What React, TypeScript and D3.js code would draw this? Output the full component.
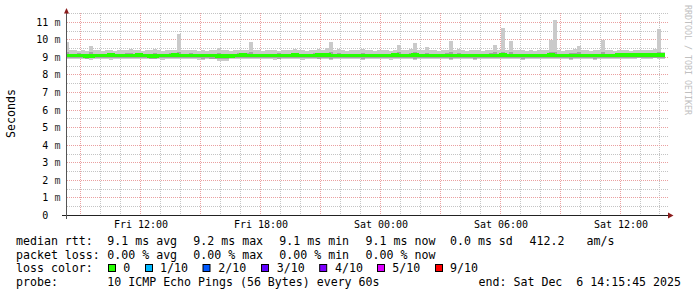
import React from "react";
import * as d3 from "d3";

const W = 697;
const H = 297;

// ---- data (one value per 12-minute column) ----
const pingMax = [
  9.87, 9.42, 9.40, 9.38, 9.40, 9.36, 9.63, 9.42, 9.40, 9.36,
  9.40, 9.42, 9.38, 9.40, 9.44, 9.42, 9.50, 9.42, 9.40, 9.38,
  9.40, 9.42, 9.46, 9.40, 9.38, 9.40, 9.42, 9.40, 10.33, 9.40,
  9.42, 9.44, 9.40, 9.38, 9.40, 9.36, 9.40, 9.42, 9.55, 9.42,
  9.40, 9.38, 9.40, 9.42, 9.40, 9.44, 9.86, 9.42, 9.40, 9.38,
  9.40, 9.42, 9.40, 9.38, 9.44, 9.40, 9.42, 9.46, 9.42, 9.40,
  9.38, 9.40, 9.42, 9.48, 9.40, 9.53, 9.87, 9.42, 9.48, 9.40,
  9.38, 9.40, 9.42, 9.40, 9.50, 9.42, 9.40, 9.38, 9.40, 9.42,
  9.40, 9.38, 9.42, 9.69, 9.42, 9.40, 9.48, 9.80, 9.42, 9.40,
  9.57, 9.42, 9.40, 9.38, 9.40, 9.44, 9.91, 9.42, 9.47, 9.40,
  9.38, 9.40, 9.42, 9.40, 9.38, 9.40, 9.44, 9.69, 9.42, 10.66,
  9.42, 9.91, 9.40, 9.40, 9.40, 9.38, 9.40, 9.35, 9.40, 9.42,
  9.40, 9.98, 11.10, 9.40, 9.38, 9.42, 9.44, 9.46, 9.63, 9.42,
  9.40, 9.38, 9.40, 9.42, 9.98, 9.42, 9.40, 9.38, 9.40, 9.42,
  9.40, 9.38, 9.40, 9.42, 9.44, 9.42, 9.44, 9.46, 10.60, 9.30,
];
const pingP9 = [
  9.30, 9.22, 9.20, 9.24, 9.21, 9.20, 9.28, 9.22, 9.20, 9.21,
  9.22, 9.25, 9.20, 9.21, 9.22, 9.24, 9.26, 9.21, 9.20, 9.22,
  9.20, 9.21, 9.24, 9.20, 9.22, 9.21, 9.23, 9.20, 9.30, 9.22,
  9.21, 9.24, 9.20, 9.22, 9.21, 9.20, 9.22, 9.21, 9.26, 9.22,
  9.20, 9.21, 9.22, 9.24, 9.21, 9.23, 9.30, 9.22, 9.20, 9.21,
  9.22, 9.20, 9.21, 9.24, 9.22, 9.20, 9.21, 9.25, 9.22, 9.20,
  9.21, 9.22, 9.24, 9.26, 9.21, 9.27, 9.30, 9.22, 9.25, 9.20,
  9.21, 9.22, 9.20, 9.21, 9.26, 9.22, 9.20, 9.21, 9.22, 9.20,
  9.21, 9.22, 9.20, 9.28, 9.21, 9.22, 9.25, 9.28, 9.21, 9.20,
  9.26, 9.22, 9.20, 9.21, 9.22, 9.23, 9.30, 9.22, 9.25, 9.21,
  9.20, 9.21, 9.22, 9.20, 9.21, 9.22, 9.23, 9.28, 9.21, 9.30,
  9.22, 9.29, 9.21, 9.20, 9.22, 9.21, 9.20, 9.22, 9.21, 9.20,
  9.22, 9.30, 9.32, 9.21, 9.20, 9.22, 9.23, 9.24, 9.28, 9.21,
  9.20, 9.22, 9.21, 9.20, 9.30, 9.22, 9.21, 9.20, 9.22, 9.21,
  9.20, 9.22, 9.21, 9.22, 9.23, 9.21, 9.23, 9.24, 9.30, 9.22,
];
const pingMedian = [
  9.11, 9.11, 9.11, 9.10, 9.10, 9.09, 9.09, 9.11, 9.11, 9.11,
  9.11, 9.12, 9.11, 9.11, 9.10, 9.11, 9.11, 9.11, 9.12, 9.11,
  9.10, 9.09, 9.09, 9.10, 9.11, 9.11, 9.11, 9.12, 9.11, 9.11,
  9.11, 9.11, 9.11, 9.10, 9.11, 9.11, 9.10, 9.10, 9.08, 9.08,
  9.09, 9.09, 9.11, 9.11, 9.12, 9.11, 9.11, 9.11, 9.10, 9.11,
  9.11, 9.11, 9.10, 9.10, 9.11, 9.11, 9.11, 9.12, 9.11, 9.11,
  9.11, 9.11, 9.11, 9.12, 9.11, 9.12, 9.11, 9.11, 9.11, 9.11,
  9.11, 9.11, 9.10, 9.10, 9.11, 9.11, 9.11, 9.11, 9.11, 9.11,
  9.11, 9.11, 9.12, 9.11, 9.11, 9.11, 9.11, 9.12, 9.11, 9.11,
  9.11, 9.11, 9.11, 9.11, 9.10, 9.11, 9.11, 9.11, 9.11, 9.11,
  9.11, 9.11, 9.10, 9.10, 9.11, 9.11, 9.11, 9.11, 9.11, 9.12,
  9.11, 9.11, 9.11, 9.10, 9.10, 9.11, 9.11, 9.11, 9.11, 9.11,
  9.11, 9.12, 9.11, 9.11, 9.11, 9.11, 9.10, 9.10, 9.11, 9.11,
  9.11, 9.11, 9.10, 9.11, 9.11, 9.11, 9.11, 9.11, 9.12, 9.13,
  9.13, 9.13, 9.12, 9.13, 9.13, 9.12, 9.13, 9.13, 9.14, 9.13,
];
const pingP2 = [
  8.95, 8.96, 8.94, 8.96, 8.95, 8.93, 8.94, 8.96, 8.97, 8.95,
  8.94, 8.96, 8.95, 8.97, 8.94, 8.95, 8.96, 8.94, 8.95, 8.96,
  8.94, 8.93, 8.92, 8.95, 8.96, 8.95, 8.94, 8.96, 8.95, 8.97,
  8.95, 8.96, 8.94, 8.95, 8.93, 8.96, 8.92, 8.91, 8.92, 8.90,
  8.92, 8.95, 8.96, 8.94, 8.95, 8.96, 8.95, 8.94, 8.96, 8.95,
  8.96, 8.94, 8.95, 8.93, 8.95, 8.96, 8.95, 8.94, 8.96, 8.95,
  8.94, 8.96, 8.95, 8.93, 8.95, 8.94, 8.93, 8.96, 8.95, 8.94,
  8.95, 8.96, 8.94, 8.95, 8.93, 8.95, 8.96, 8.95, 8.94, 8.96,
  8.95, 8.94, 8.96, 8.95, 8.94, 8.96, 8.95, 8.93, 8.94, 8.96,
  8.95, 8.94, 8.96, 8.95, 8.94, 8.95, 8.93, 8.94, 8.95, 8.96,
  8.95, 8.94, 8.93, 8.95, 8.96, 8.95, 8.94, 8.95, 8.96, 8.95,
  8.94, 8.95, 8.96, 8.95, 8.93, 8.94, 8.95, 8.96, 8.95, 8.94,
  8.95, 8.96, 8.94, 8.95, 8.96, 8.95, 8.93, 8.94, 8.95, 8.96,
  8.95, 8.94, 8.93, 8.95, 8.96, 8.95, 8.94, 8.95, 8.96, 8.97,
  8.97, 8.96, 8.97, 8.98, 8.97, 8.96, 8.97, 8.98, 8.97, 8.96,
];
const pingMin = [
  8.90, 8.92, 8.88, 8.90, 8.92, 8.88, 8.86, 8.90, 8.92, 8.90,
  8.88, 8.86, 8.90, 8.92, 8.90, 8.88, 8.90, 8.92, 8.90, 8.88,
  8.90, 8.92, 8.88, 8.90, 8.86, 8.90, 8.92, 8.90, 8.88, 8.90,
  8.92, 8.90, 8.88, 8.86, 8.84, 8.88, 8.90, 8.92, 8.80, 8.80,
  8.82, 8.88, 8.90, 8.92, 8.90, 8.88, 8.90, 8.92, 8.88, 8.90,
  8.92, 8.90, 8.86, 8.88, 8.90, 8.92, 8.90, 8.88, 8.90, 8.86,
  8.90, 8.92, 8.88, 8.90, 8.92, 8.88, 8.86, 8.90, 8.92, 8.90,
  8.88, 8.90, 8.92, 8.90, 8.86, 8.88, 8.90, 8.92, 8.90, 8.88,
  8.90, 8.86, 8.88, 8.90, 8.92, 8.90, 8.88, 8.86, 8.90, 8.92,
  8.90, 8.88, 8.90, 8.92, 8.88, 8.90, 8.86, 8.88, 8.90, 8.92,
  8.90, 8.88, 8.86, 8.90, 8.92, 8.90, 8.88, 8.90, 8.92, 8.90,
  8.88, 8.90, 8.92, 8.90, 8.86, 8.88, 8.90, 8.92, 8.90, 8.88,
  8.90, 8.92, 8.88, 8.90, 8.92, 8.90, 8.86, 8.88, 8.90, 8.92,
  8.90, 8.88, 8.86, 8.90, 8.92, 8.90, 8.88, 8.90, 8.92, 8.90,
  8.92, 8.90, 8.92, 8.94, 8.92, 8.90, 8.92, 8.94, 8.92, 8.90,
];

const yTickValues = [0, 1, 2, 3, 4, 5, 6, 7, 8, 9, 10, 11];
const yMinorValues = [0.5, 1.5, 2.5, 3.5, 4.5, 5.5, 6.5, 7.5, 8.5, 9.5, 10.5, 11.5];
const yTickLabels = ["0", "1 m", "2 m", "3 m", "4 m", "5 m", "6 m", "7 m", "8 m", "9 m", "10 m", "11 m"];

const startTime = new Date(2025, 11, 5, 8, 21);
const endTime = new Date(2025, 11, 6, 14, 21);
const columnMinutes = 12;

const medianStats = ["9.1 ms avg", "9.2 ms max", "9.1 ms min", "9.1 ms now", "0.0 ms sd", "412.2", "am/s"];
const medianStatX = [107.3, 193.3, 279.3, 365.6, 450, 529.5, 586.5];
const lossStats = ["0.00 % avg", "0.00 % max", "0.00 % min", "0.00 % now"];
const lossStatX = [107.3, 193.3, 279.3, 365.6];
const lossLabels = ["0", "1/10", "2/10", "3/10", "4/10", "5/10", "9/10"];
const lossColors = ["#26ff00", "#00b8ff", "#0059ff", "#5e00ff", "#7e00ff", "#dd00ff", "#ff0000"];
const lossBoxX = [108.5, 145.5, 203, 261.5, 319.7, 377.5, 435.5];
const lossLabelX = [123.3, 160, 218.3, 276.7, 335, 392.3, 450];

const FONT = "'DejaVu Sans Mono', monospace";

export default function App() {
  const X0 = 67;
  const X1 = 667;
  const Y0 = 215.5;
  const YT = 13.45;

  const x = d3.scaleTime().domain([startTime, endTime]).range([X0, X1]);
  const y = d3.scaleLinear().domain([0, 11.5]).range([Y0, YT]);

  const colStart = (i: number) => d3.timeMinute.offset(startTime, columnMinutes * i - columnMinutes / 2);

  const hours = d3.timeHour.range(d3.timeHour.ceil(startTime), endTime);
  const fmt = d3.timeFormat("%a %H:%M");
  const px = (v: number) => Math.floor(v) + 0.5;

  const n = pingMedian.length;
  const medPts: [number, number][] = pingMedian.map((v, i) => [x(colStart(i)), y(v)]);
  medPts.push([x(colStart(n)), y(pingMedian[n - 1])]);
  const medLine = d3.line().curve(d3.curveStepAfter)(medPts) || "";

  const bands = [
    { lo: pingMin, hi: pingMax, color: "#cacaca" },
    { lo: pingP2, hi: pingP9, color: "#a4a4a4" },
  ];

  const legendBase = [245, 258.7, 272.4, 286.1];
  const pre = { whiteSpace: "pre" as const };

  return (
    <svg width={W} height={H} style={{ position: "absolute", left: 0, top: 0, background: "#fff" }}
      fontFamily={FONT}>
      <rect x={0} y={0} width={W} height={H} fill="#ffffff" />
      <defs>
        <clipPath id="plotClip">
          <rect x={X0} y={YT} width={X1 - X0} height={Y0 - YT} />
        </clipPath>
      </defs>

      {/* minor grid */}
      <g stroke="#c4c4c4" strokeWidth={1} strokeDasharray="1 1" shapeRendering="crispEdges">
        {yMinorValues.map((v) => (
          <line key={"hm" + v} x1={X0} x2={669} y1={px(y(v))} y2={px(y(v))} />
        ))}
        {hours.filter((h) => h.getHours() % 3 !== 0).map((h) => (
          <line key={"vm" + h.getTime()} x1={px(x(h))} x2={px(x(h))} y1={YT} y2={Y0} />
        ))}
      </g>
      {/* major grid */}
      <g stroke="#eaa0a0" strokeWidth={1} strokeDasharray="1 1" shapeRendering="crispEdges">
        {yTickValues.filter((v) => v > 0).map((v) => (
          <line key={"hM" + v} x1={X0} x2={669} y1={px(y(v))} y2={px(y(v))} />
        ))}
        {hours.filter((h) => h.getHours() % 3 === 0).map((h) => (
          <line key={"vM" + h.getTime()} x1={px(x(h))} x2={px(x(h))} y1={YT} y2={Y0} />
        ))}
      </g>

      {/* smoke */}
      <g clipPath="url(#plotClip)" shapeRendering="crispEdges">
        {bands.map((b, bi) => (
          <g key={"band" + bi} fill={b.color}>
            {b.hi.map((hv, i) => {
              const xa = x(colStart(i));
              const xb = x(colStart(i + 1));
              const ya = Math.round(y(hv));
              const yb = Math.round(y(b.lo[i]));
              return <rect key={i} x={xa} width={xb - xa} y={ya} height={yb - ya} />;
            })}
          </g>
        ))}
        <path d={medLine} fill="none" stroke="#26ff00" strokeWidth={3.6} />
      </g>

      {/* axes */}
      <line x1={62} x2={668} y1={Y0} y2={Y0} stroke="#222" strokeWidth={1} shapeRendering="crispEdges" />
      <line x1={66.5} x2={66.5} y1={219} y2={13} stroke="#555" strokeWidth={1} shapeRendering="crispEdges" />
      <path d="M64,13.5 L69,13.5 L66.5,8 Z" fill="#8b1c1c" />
      <path d="M668,212.5 L668,218.5 L673.5,215.5 Z" fill="#8b1c1c" />

      {/* y labels */}
      <g fontSize={10} fill="#000">
        {yTickValues.map((v, i) => {
          const label = yTickLabels[i];
          const parts = label.split(" ");
          const yy = px(y(v)) + 3.5;
          return (
            <g key={"yl" + v}>
              <text x={48.4} y={yy} textAnchor="end">{parts[0]}</text>
              {parts[1] ? <text x={54.4} y={yy} fill="#333">{parts[1]}</text> : null}
            </g>
          );
        })}
      </g>

      {/* x labels */}
      <g fontSize={10} fill="#000">
        {hours.filter((h) => h.getHours() % 6 === 0).map((h) => (
          <text key={"xl" + h.getTime()} x={x(h) + 1} y={228} textAnchor="middle">{fmt(h)}</text>
        ))}
      </g>

      {/* y title */}
      <text transform="translate(14.5,113.5) rotate(-90)" textAnchor="middle" fontSize={11.6} fill="#000">Seconds</text>

      {/* watermark */}
      <text transform="translate(685,5) rotate(90)" fontSize={8.3} fill="#c0c0c0" xmlSpace="preserve" style={pre}>RRDTOOL / TOBI OETIKER</text>

      {/* legend */}
      <g fontSize={11.6} fill="#000">
        <text x={16} y={legendBase[0]} xmlSpace="preserve" style={pre}>median rtt:</text>
        {medianStats.map((s, i) => (
          <text key={"ms" + i} x={medianStatX[i]} y={legendBase[0]} xmlSpace="preserve" style={pre}>{s}</text>
        ))}
        <text x={16} y={legendBase[1]} xmlSpace="preserve" style={pre}>packet loss:</text>
        {lossStats.map((s, i) => (
          <text key={"ls" + i} x={lossStatX[i]} y={legendBase[1]} xmlSpace="preserve" style={pre}>{s}</text>
        ))}
        <text x={16} y={legendBase[2]} xmlSpace="preserve" style={pre}>loss color:</text>
        {lossLabels.map((s, i) => (
          <g key={"lc" + i}>
            <rect x={lossBoxX[i]} y={264.5} width={7} height={7} fill={lossColors[i]} stroke="#000" strokeWidth={1} />
            <text x={lossLabelX[i]} y={legendBase[2]}>{s}</text>
          </g>
        ))}
        <text x={16} y={legendBase[3]} xmlSpace="preserve" style={pre}>probe:</text>
        <text x={107.3} y={legendBase[3]} xmlSpace="preserve" style={pre}>10 ICMP Echo Pings (56 Bytes) every 60s</text>
        <text x={681} y={legendBase[3]} textAnchor="end" xmlSpace="preserve" style={pre}>{"end: Sat Dec  6 14:15:45 2025"}</text>
      </g>
    </svg>
  );
}
